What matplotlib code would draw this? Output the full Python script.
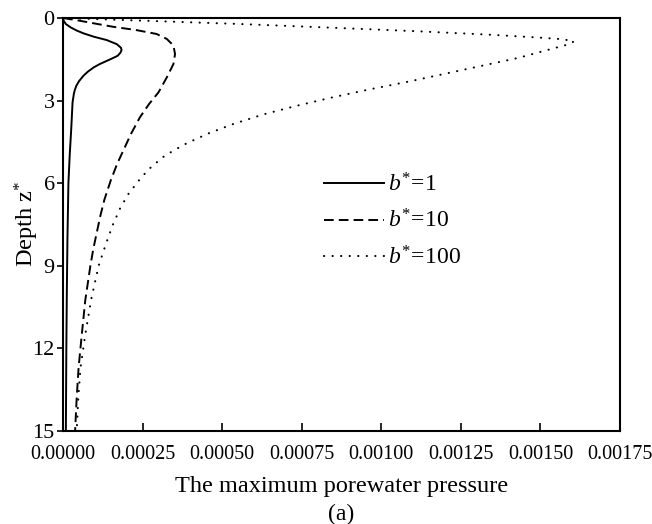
import numpy as np
import matplotlib
matplotlib.use("Agg")
import matplotlib.pyplot as plt

plt.rcParams['font.family'] = ['Liberation Serif', 'DejaVu Serif']
plt.rcParams['mathtext.fontset'] = 'custom'
plt.rcParams['mathtext.rm'] = 'Liberation Serif'
plt.rcParams['mathtext.it'] = 'Liberation Serif:italic'

# depth z* and max porewater pressure (x1e-4) for each b*
z_b1 = [0, 0.1, 0.22, 0.34, 0.45, 0.56, 0.68, 0.8, 0.95, 1.08, 1.16, 1.25, 1.37, 1.46, 1.55, 1.67, 1.79, 1.95, 2.1, 2.3, 2.46, 2.62, 2.76, 3.07, 4.0, 5.0, 6.0, 8.0, 10.0, 12.0, 15.0]
p_b1 = [0, 0.02, 0.09, 0.24, 0.42, 0.65, 0.97, 1.37, 1.69, 1.82, 1.84, 1.81, 1.72, 1.56, 1.39, 1.16, 0.97, 0.78, 0.64, 0.5, 0.42, 0.37, 0.34, 0.3, 0.26, 0.21, 0.17, 0.14, 0.12, 0.105, 0.09]

z_b10 = [0, 0.1, 0.19, 0.32, 0.44, 0.58, 0.76, 1.0, 1.31, 1.67, 2.16, 2.7, 3.13, 3.6, 4.2, 4.8, 5.3, 5.9, 6.6, 7.2, 7.8, 8.4, 9.0, 10.25, 11.5, 12.7, 13.8, 15.0]
p_b10 = [0, 0.53, 0.95, 1.58, 2.31, 2.94, 3.26, 3.47, 3.52, 3.47, 3.26, 3.0, 2.7, 2.42, 2.14, 1.9, 1.7, 1.5, 1.3, 1.17, 1.06, 0.95, 0.86, 0.7, 0.59, 0.49, 0.43, 0.38]

z_b100 = [0, 0.1, 0.22, 0.35, 0.48, 0.6, 0.7, 0.77, 0.85, 0.95, 1.2, 1.45, 1.75, 2.0, 2.3, 2.6, 2.9, 3.2, 3.5, 3.85, 4.2, 4.6, 5.0, 5.4, 5.8, 6.4, 6.9, 7.5, 8.2, 9.0, 10.25, 11.5, 12.7, 13.8, 15.0]
p_b100 = [0, 2.6, 5.6, 8.4, 11.1, 13.3, 14.8, 15.7, 16.05, 15.9, 15.1, 14.3, 13.1, 12.1, 10.9, 9.6, 8.4, 7.3, 6.3, 5.35, 4.55, 3.8, 3.2, 2.78, 2.45, 2.05, 1.8, 1.57, 1.35, 1.12, 0.88, 0.7, 0.55, 0.48, 0.43]

x_ticks = [0, 0.00025, 0.0005, 0.00075, 0.001, 0.00125, 0.0015, 0.00175]
y_ticks = [0, 3, 6, 9, 12, 15]

fig = plt.figure(figsize=(6.52, 5.24), dpi=100)
ax = fig.add_axes([63/652, 1 - 431/524, 557/652, 413/524])

ax.plot(np.array(p_b1) * 1e-4, z_b1, color='black', lw=1.4, label=r'$b^{*}\!=\!1$')
ax.plot(np.array(p_b10) * 1e-4, z_b10, color='black', lw=1.4, linestyle=(0, (5, 2.6)), label=r'$b^{*}\!=\!10$')
ax.plot(np.array(p_b100) * 1e-4, z_b100, color='black', lw=1.5, linestyle=(0, (0.1, 4)),
        dash_capstyle='round', label=r'$b^{*}\!=\!100$')

ax.set_xlim(0, 0.00175)
ax.set_ylim(15, 0)
ax.set_xticks(x_ticks)
ax.set_xticklabels(['%.5f' % t for t in x_ticks])
ax.set_yticks(y_ticks)

for s in ax.spines.values():
    s.set_linewidth(1.5)
ax.tick_params(axis='x', direction='in', length=6, width=1.2, labelsize=14.5, pad=10)
ax.tick_params(axis='y', direction='out', length=4, width=1.2, labelsize=16, pad=2)

ax.set_xlabel('The maximum porewater pressure', fontsize=17.5, labelpad=9)
ax.set_ylabel(r'Depth z$^{*}$', fontsize=17.5, labelpad=-6)
fig.text(0.5 * (63 + 620) / 652, 1 - 514/524, '(a)', fontsize=17, ha='center', va='center')

ax.legend(loc='upper left', bbox_to_anchor=(0.43, 0.675), frameon=False, fontsize=17,
          handlelength=2.55, handletextpad=0.15, labelspacing=0.55)

fig.savefig('out.png', dpi=100)
